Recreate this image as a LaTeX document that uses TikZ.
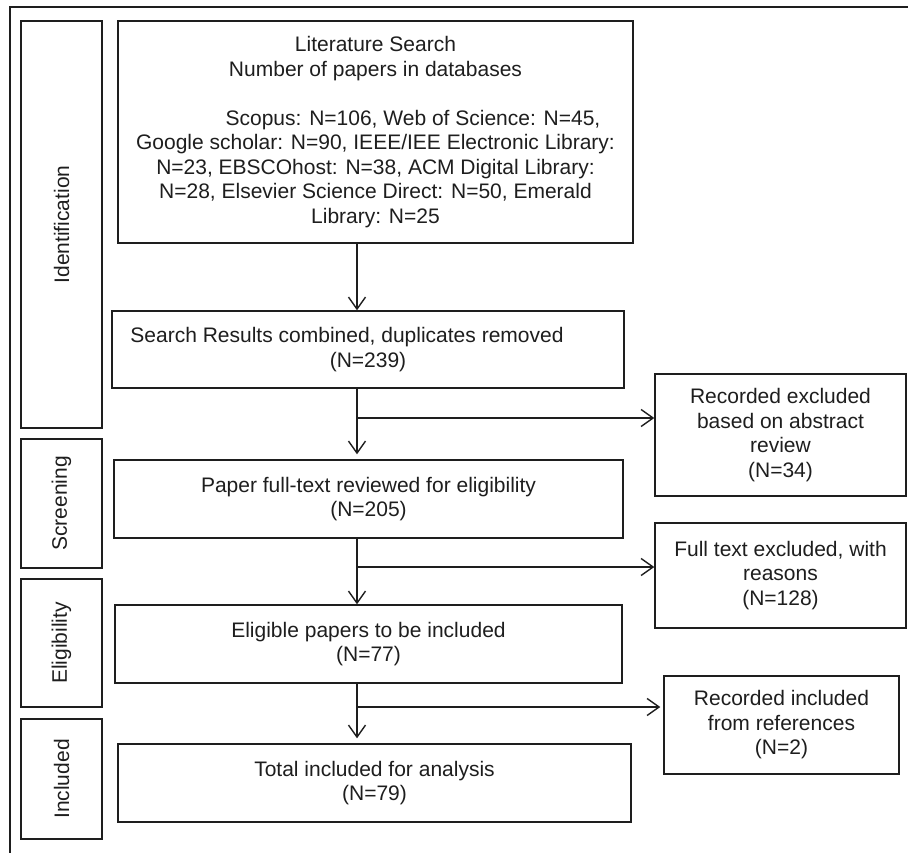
\documentclass[tikz,border=0pt]{standalone}
\usepackage{fontspec}
\setmainfont{Liberation Sans}
\usetikzlibrary{arrows.meta}
\definecolor{ink}{HTML}{1E1E1E}
\tikzset{
  box/.style={draw=ink, line width=1.4pt, inner sep=0pt, align=center, text=ink,
    font=\fontsize{21}{24.5}\selectfont},
  side/.style={box, rotate=90},
  flow/.style={draw=ink, line width=1.4pt, -{Straight Barb[length=12pt,width=17pt,line width=1.4pt]}},
  link/.style={draw=ink, line width=1.4pt}
}
\begin{document}
\begin{tikzpicture}[x=1pt,y=-1pt]
\useasboundingbox (0,0) rectangle (908,853);
\fill[white] (0,0) rectangle (908,853);
% outer frame
\coordinate (fa) at (10,853);
\coordinate (fb) at (10,7);
\coordinate (fc) at (908,7);
\draw[link, line width=2pt] (fa) -- (fb) -- (fc);
% stage boxes
\node[side, minimum width=407pt, minimum height=81pt] (sid) at (61.5,224.5) {Identification};
\node[side, minimum width=129pt, minimum height=81pt] (sscr) at (61.5,503.5) {Screening};
\node[side, minimum width=128pt, minimum height=81pt] (selig) at (61.5,643) {Eligibility};
\node[side, minimum width=120pt, minimum height=81pt] (sincl) at (61.5,779) {Included};
% main boxes
\node[box, minimum width=515pt, minimum height=222pt] (lit) at (375.5,132) {Literature Search\\Number of papers in databases\\[24.5pt]
\hspace*{75pt}Scopus: N=106, Web of Science: N=45,\\Google scholar: N=90, IEEE/IEE Electronic Library:\\N=23, EBSCOhost: N=38, ACM Digital Library:\\N=28, Elsevier Science Direct: N=50, Emerald\\Library: N=25};
\node[box, minimum width=512pt, minimum height=77pt] (search) at (368,349.5) {Search Results combined, duplicates removed\hspace*{42pt}\\(N=239)};
\node[box, minimum width=509pt, minimum height=78pt] (paper) at (368.5,499) {Paper full-text reviewed for eligibility\\(N=205)};
\node[box, minimum width=507pt, minimum height=78pt] (elig) at (368.5,644) {Eligible papers to be included\\(N=77)};
\node[box, minimum width=513pt, minimum height=78pt] (total) at (374.5,783) {Total included for analysis\\(N=79)};
% side boxes
\node[box, minimum width=251pt, minimum height=122pt] (ex1) at (780.5,435) {Recorded excluded\\based on abstract\\review\\(N=34)};
\node[box, minimum width=251pt, minimum height=105pt] (ex2) at (780.5,575.5) {Full text excluded, with\\reasons\\(N=128)};
\node[box, minimum width=235pt, minimum height=98pt] (inc) at (781.5,725) {Recorded included\\from references\\(N=2)};
% connectors
\coordinate (c0) at (357,243);
\coordinate (b1) at (357,418);
\coordinate (b2) at (357,567);
\coordinate (b3) at (357,707);
\draw[flow] (lit.south -| c0) -- (search.north -| c0);
\draw[flow, shorten >=5pt] (search.south -| b1) -- (paper.north -| b1);
\draw[flow] (b1) -- (b1 -| ex1.west);
\draw[flow] (paper.south -| b2) -- (elig.north -| b2);
\draw[flow] (b2) -- (b2 -| ex2.west);
\draw[flow, shorten >=5pt] (elig.south -| b3) -- (total.north -| b3);
\draw[flow, shorten >=3pt] (b3) -- (b3 -| inc.west);
\end{tikzpicture}
\end{document}
